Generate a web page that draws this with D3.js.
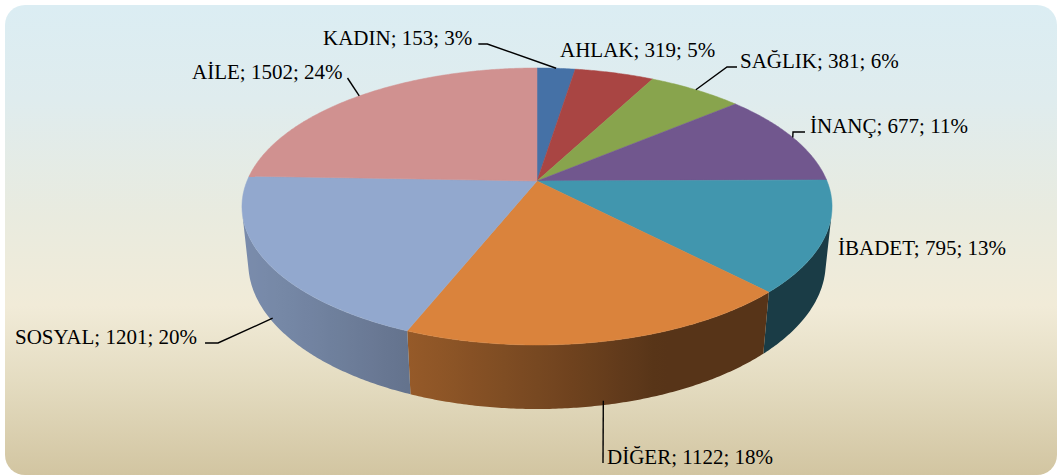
<!DOCTYPE html>
<html>
<head>
<meta charset="utf-8">
<script src="https://cdn.jsdelivr.net/npm/d3@7"></script>
<style>
html,body{margin:0;padding:0;background:#fff;}
svg{display:block;}
</style>
</head>
<body>
<svg id="chart" width="1059" height="476"></svg>
<script>
// ---- data ----
const categories = ["KADIN", "AHLAK", "SAĞLIK", "İNANÇ", "İBADET", "DİĞER", "SOSYAL", "AİLE"];
const values = [153, 319, 381, 677, 795, 1122, 1201, 1502];
const percentLabels = [3, 5, 6, 11, 13, 18, 20, 24];
const colors = ["#4571A6", "#A94543", "#88A44D", "#71578E", "#4196AE", "#DA833C", "#92A8CE", "#D09190"];

// ---- label layout (x = text left, y = baseline, leader: side, gap, elbow) ----
const labelX = [323, 560, 740, 810, 838, 607, 15, 192];
const labelY = [45, 57, 68, 133, 255, 464, 344, 79];
const leaderSide = ["right", null, "left", "left", null, "left", "right", "right"];
const leaderGap = [6, 0, 3, 5, 0, 4, 8, 5];
const leaderElbow = [9, 0, 10, 12, 0, 0, 13, 0];

const svg = d3.select("#chart");

// background
const defs = svg.append("defs");
const bg = defs.append("linearGradient").attr("id", "bg").attr("x1", 0).attr("y1", 0).attr("x2", 0).attr("y2", 1);
[[0, "#DBEDF3"], [0.2, "#DFECEE"], [0.45, "#E9EBDF"], [0.64, "#F1EBD8"], [0.8, "#E4DCC1"], [1, "#D2C5A1"]]
  .forEach(([o, c]) => bg.append("stop").attr("offset", o).attr("stop-color", c));
svg.append("rect").attr("x", 5).attr("y", 5).attr("width", 1052).attr("height", 470)
  .attr("rx", 20).attr("ry", 20).attr("fill", "url(#bg)");

// ---- 3D perspective projection of the pie ----
const cx = 537, cy = 181, S = 290;
const k = 0.2075, sinA = 0.4614, cosA = 0.887, Hh = 0.222;
function proj(phi, z) { // z: 0 top, 1 bottom
  const den = 1 - k * cosA * Math.sin(phi) + k * Hh * z * sinA;
  return [cx + S * Math.cos(phi) / den,
          cy + S * (Math.sin(phi) * sinA + Hh * z * cosA) / den];
}
// wall visible where sin(phi) > R/(D cos a)
const visLo = Math.asin(k / cosA), visHi = Math.PI - visLo;

const pie = d3.pie().sort(null).value(d => d)(values);
const toPhi = a => a - Math.PI / 2;

function shade(color, phi) {
  const d = Math.max(0, Math.cos(phi - 160 * Math.PI / 180));
  const f = 0.4 + 0.43 * d;
  const c = d3.rgb(color);
  return d3.rgb(c.r * f, c.g * f, c.b * f).formatHex();
}

const step = 0.5 * Math.PI / 180;
const wallG = svg.append("g");
pie.forEach((p, i) => {
  let a0 = toPhi(p.startAngle), a1 = toPhi(p.endAngle);
  // normalise into [-pi/2, 3pi/2)
  a0 = Math.max(a0, visLo); a1 = Math.min(a1, visHi);
  if (a1 <= a0) return;
  const n = Math.max(2, Math.ceil((a1 - a0) / step));
  const top = [], bot = [];
  for (let j = 0; j <= n; j++) {
    const t = a0 + (a1 - a0) * j / n;
    top.push(proj(t, 0)); bot.push(proj(t, 1));
  }
  const xs = top[0][0], xe = top[n][0];
  const gid = "w" + i;
  const g = defs.append("linearGradient").attr("id", gid).attr("gradientUnits", "userSpaceOnUse")
    .attr("x1", xs).attr("y1", 0).attr("x2", xe).attr("y2", 0);
  const m = 24;
  for (let j = 0; j <= m; j++) {
    const t = a0 + (a1 - a0) * j / m;
    const x = proj(t, 0)[0];
    g.append("stop").attr("offset", (x - xs) / (xe - xs)).attr("stop-color", shade(colors[i], t));
  }
  const pts = top.concat(bot.reverse());
  wallG.append("path").attr("d", "M" + pts.map(q => q.join(",")).join("L") + "Z")
    .attr("fill", `url(#${gid})`);
});

// tops
svg.append("g").selectAll("path").data(pie).join("path")
  .attr("d", p => {
    const a0 = toPhi(p.startAngle), a1 = toPhi(p.endAngle);
    const n = Math.max(2, Math.ceil((a1 - a0) / step));
    const pts = [[cx, cy]];
    for (let j = 0; j <= n; j++) pts.push(proj(a0 + (a1 - a0) * j / n, 0));
    return "M" + pts.map(q => q.join(",")).join("L") + "Z";
  })
  .attr("fill", (p, i) => colors[i]).attr("stroke", (p, i) => colors[i]).attr("stroke-width", 0.5);

// labels
const lg = svg.append("g");
pie.forEach((p, i) => {
  const t = lg.append("text").attr("x", labelX[i]).attr("y", labelY[i])
    .attr("font-family", "'Liberation Serif', 'Times New Roman', serif")
    .attr("font-size", 21).attr("fill", "#000")
    .text(`${categories[i]}; ${values[i]}; ${percentLabels[i]}%`);
  if (!leaderSide[i]) return;
  const tw = t.node().getComputedTextLength();
  const mid = toPhi((p.startAngle + p.endAngle) / 2);
  const anchor = Math.sin(mid) > 0 ? proj(mid, 0.93) : proj(mid, 0);
  const ly = labelY[i] - 1;
  let x0, x1;
  if (leaderSide[i] === "right") { x0 = labelX[i] + tw + leaderGap[i]; x1 = x0 + leaderElbow[i]; }
  else { x0 = labelX[i] - leaderGap[i]; x1 = x0 - leaderElbow[i]; }
  lg.append("path").attr("d", `M${x0},${ly}L${x1},${ly}L${anchor[0]},${anchor[1]}`)
    .attr("fill", "none").attr("stroke", "#000").attr("stroke-width", 1.4);
});
</script>
</body>
</html>
